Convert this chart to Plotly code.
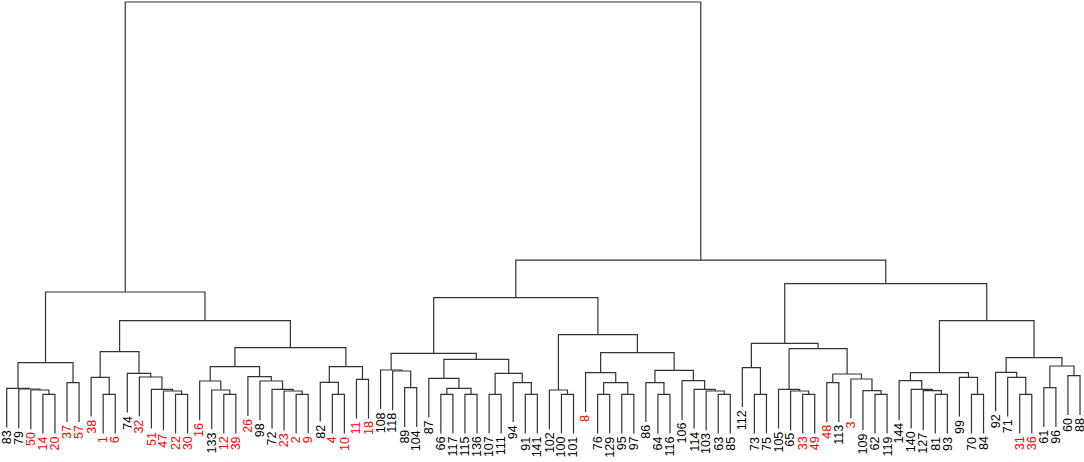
import plotly.graph_objects as go

# hclust-style merge table: negative = leaf (observation number), positive = earlier merge row (1-based)
merge_left = [-14, -50, -79, -83, -37, 4, -1, -38, -22, -47,
              -51, -32, -74, 8, -12, -133, -16, -2, -23, -72,
              -98, -26, 17, -4, -82, -11, 25, 23, 14, 6,
              -89, -118, -108, -66, -115, 34, -87, -107, -91, -94,
              38, 37, 33, -100, -102, -76, -95, 46, -8, -64,
              -86, -63, -103, -114, -106, 51, 49, 45, 43,
              -73, -112, -33, -65, -105, -48, -62, -109, -3, 65,
              64, 61, -81, -127, -140, -144, -70, -99, 75, -31,
              -71, -92, -61, -60, 82, 81, 78, 71, 59, 30]
merge_right = [-20, 1, 2, 3, -57, 5, -6, 7, -30, 9,
               10, 11, 12, 13, -39, 15, 16, -9, 18, 19,
               20, 21, 22, -10, 24, -18, 26, 27, 28, 29,
               -104, 31, 32, -117, -136, 35, 36, -111, -141, 39,
               40, 41, 42, -101, 44, -129, -97, 47, 48, -116,
               50, -85, 52, 53, 54, 55, 56, 57, 58,
               -75, 60, -49, 62, 63, -113, -119, 66, 67, 68,
               69, 70, -93, 72, 73, 74, -84, 76, 77, -36,
               79, 80, -96, -88, 83, 84, 85, 86, 87, 88]
merge_height = [0.57, 1.00, 1.10, 1.17, 1.73, 3.73, 0.57, 2.27, 0.57, 0.90,
                1.07, 2.30, 2.67, 4.83, 0.57, 1.00, 1.90, 0.57, 0.90, 1.07,
                1.90, 2.33, 3.33, 0.57, 1.77, 2.07, 3.33, 5.23, 7.93, 10.80,
                1.23, 2.90, 3.00, 0.57, 0.57, 1.17, 2.17, 0.57, 0.57, 1.73,
                2.67, 4.07, 4.67, 0.57, 1.00, 0.57, 0.57, 1.73, 2.73, 0.57,
                1.73, 0.57, 0.90, 1.07, 1.93, 2.97, 4.73, 6.53, 10.23,
                0.57, 3.23, 0.57, 0.90, 1.07, 1.73, 0.57, 0.93, 2.10, 2.60,
                5.13, 5.67, 0.57, 0.93, 1.07, 1.93, 0.57, 2.27, 2.73, 0.57,
                2.27, 2.77, 1.23, 2.43, 3.40, 4.23, 7.93, 11.63, 13.98, 39.80]

red_labels = [1, 2, 3, 4, 6, 8, 9, 10, 11, 12, 14, 16, 18, 20, 22, 23, 26,
              30, 31, 32, 33, 36, 37, 38, 39, 47, 48, 49, 50, 51, 57]

hang = 0.1 * (max(merge_height) - min(merge_height))

# leaf order from the tree, left child first
order = []
def collect(node):
    if node < 0:
        order.append(-node)
    else:
        collect(merge_left[node - 1])
        collect(merge_right[node - 1])
collect(len(merge_height))
leaf_x = {lab: i for i, lab in enumerate(order)}

node_x = {}
def xpos(node):
    if node < 0:
        return leaf_x[-node]
    if node not in node_x:
        node_x[node] = (xpos(merge_left[node - 1]) + xpos(merge_right[node - 1])) / 2
    return node_x[node]

xs, ys = [], []
leaf_end = {}
for k in range(len(merge_height)):
    h = merge_height[k]
    a, b = merge_left[k], merge_right[k]
    ya = merge_height[a - 1] if a > 0 else h - hang
    yb = merge_height[b - 1] if b > 0 else h - hang
    if a < 0:
        leaf_end[-a] = ya
    if b < 0:
        leaf_end[-b] = yb
    xs += [xpos(a), xpos(a), xpos(b), xpos(b), None]
    ys += [ya, h, h, yb, None]

fig = go.Figure()
fig.add_trace(go.Scatter(x=xs, y=ys, mode="lines",
                         line=dict(color="#333333", width=1.2),
                         hoverinfo="skip", showlegend=False))

for lab in order:
    fig.add_annotation(x=leaf_x[lab], y=leaf_end[lab], text=str(lab),
                       textangle=-90, showarrow=False,
                       xanchor="center", yanchor="top", yshift=-1,
                       font=dict(family="Liberation Sans, Arial", size=12.5,
                                 color="#FF0000" if lab in red_labels else "#000000"))

fig.update_xaxes(visible=False, range=[-0.556, 89.33])
fig.update_yaxes(visible=False, range=[-6.2, 40])
fig.update_layout(width=1084, height=462, margin=dict(l=0, r=0, t=0, b=0),
                  plot_bgcolor="white", paper_bgcolor="white")
# page body has a default 8px margin; drop it so the figure fills the window
fig.write_html("out.html", config={"displayModeBar": False},
               post_script="document.body.style.margin='0';")
